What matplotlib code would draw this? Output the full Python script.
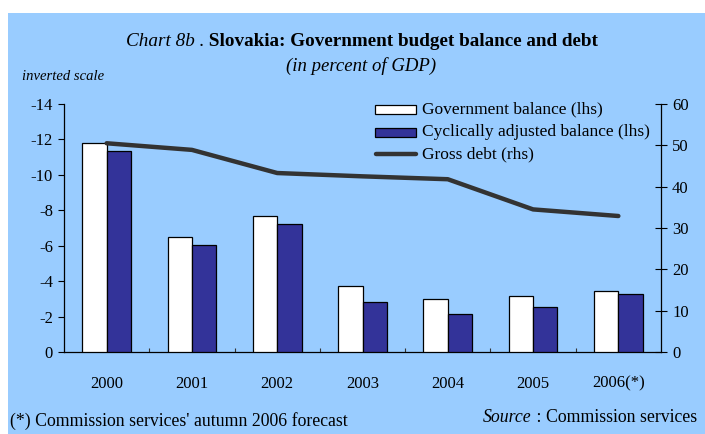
import matplotlib
matplotlib.use("Agg")
import matplotlib.pyplot as plt
from matplotlib.patches import Rectangle
from matplotlib.lines import Line2D
import numpy as np

plt.rcParams['font.family'] = ['Liberation Serif', 'DejaVu Serif']

years = ["2000", "2001", "2002", "2003", "2004", "2005", "2006(*)"]
gov_balance = [-11.8, -6.5, -7.65, -3.7, -3.0, -3.15, -3.45]
cyc_balance = [-11.35, -6.05, -7.2, -2.8, -2.15, -2.55, -3.25]
gross_debt = [50.5, 48.9, 43.3, 42.5, 41.8, 34.5, 32.9]

W, H = 705, 434
fig = plt.figure(figsize=(W / 100, H / 100), dpi=100)
fig.patch.set_facecolor('white')
bg = '#99CCFF'
fig.patches.append(Rectangle((8 / W, 0), 1 - 8 / W, 1 - 13 / H, transform=fig.transFigure,
                             facecolor=bg, edgecolor='none', zorder=-10))

def fx(px):
    return px / W

def fy(py):
    return 1 - py / H

ax = fig.add_axes([fx(64), fy(352), fx(661) - fx(64), fy(104) - fy(352)])
ax.set_facecolor('none')
ax2 = ax.twinx()
ax2.set_facecolor('none')

tick_fs = 12
x = np.arange(len(years))
bw = 0.285
ax.bar(x - bw / 2, gov_balance, width=bw, color='white', edgecolor='black', linewidth=0.9, zorder=3)
ax.bar(x + bw / 2, cyc_balance, width=bw, color='#333399', edgecolor='black', linewidth=0.9, zorder=3)
ax.set_ylim(0, -14)
ax.set_yticks(np.arange(0, -15, -2))
ax.set_yticklabels([f"{v}" for v in range(0, -15, -2)])
ax.set_xlim(-0.5, len(years) - 0.5)
ax.set_xticks(x)
ax.set_xticklabels(years)
ax.set_xticks(np.arange(0.5, len(years) - 0.5, 1), minor=True)
ax.tick_params(axis='x', which='major', length=0, pad=17, labelsize=tick_fs)
ax.tick_params(axis='x', which='minor', direction='in', length=3, width=0.8, color='#333333')
ax.tick_params(axis='y', direction='out', length=4, width=0.8, labelsize=tick_fs, pad=4)

ax2.plot(x, gross_debt, color='#333333', linewidth=3.2, solid_capstyle='round', zorder=4)
ax2.set_ylim(0, 60)
ax2.set_yticks(np.arange(0, 61, 10))
ax2.tick_params(axis='y', direction='inout', length=8, width=0.8, labelsize=tick_fs, pad=4)

for a in (ax, ax2):
    a.spines['top'].set_visible(False)
    for s in a.spines.values():
        s.set_linewidth(0.9)
ax.spines['right'].set_visible(False)
ax2.spines['left'].set_visible(False)
ax2.spines['bottom'].set_visible(False)

# Legend (manual)
leg_fs = 12.5
fig.patches.append(Rectangle((fx(375), fy(114)), fx(416) - fx(375), fy(105) - fy(114),
                             transform=fig.transFigure, facecolor='white', edgecolor='black', linewidth=0.9))
fig.patches.append(Rectangle((fx(375), fy(137)), fx(416) - fx(375), fy(128) - fy(137),
                             transform=fig.transFigure, facecolor='#333399', edgecolor='black', linewidth=0.9))
fig.lines.append(Line2D([fx(376), fx(416)], [fy(153.5), fy(153.5)], transform=fig.transFigure,
                        color='#333333', linewidth=3.2, solid_capstyle='round'))
fig.text(fx(422), fy(109), "Government balance (lhs)", fontsize=leg_fs, va='center', ha='left')
fig.text(fx(422), fy(132.5), "Cyclically adjusted balance (lhs)", fontsize=leg_fs, va='center', ha='left')
fig.text(fx(422), fy(154), "Gross debt (rhs)", fontsize=leg_fs, va='center', ha='left')

# Titles
fig.canvas.draw()
r = fig.canvas.get_renderer()
t1 = fig.text(0, fy(42), "Chart 8b .", fontsize=13.8, style='italic', va='center', ha='left')
t2 = fig.text(0, fy(42), " Slovakia: Government budget balance and debt", fontsize=13.8,
              weight='bold', va='center', ha='left')
w1 = t1.get_window_extent(r).width
w2 = t2.get_window_extent(r).width
start = 362 - (w1 + w2) / 2
t1.set_x(fx(start))
t2.set_x(fx(start + w1))

fig.text(fx(361), fy(66), "(in percent of GDP)", fontsize=13.5, style='italic', va='center', ha='center')
fig.text(fx(22), fy(76), "inverted scale", fontsize=10.5, style='italic', va='center', ha='left')

# Footnotes
foot_fs = 12.8
fig.text(fx(10), fy(421), "(*) Commission services' autumn 2006 forecast", fontsize=foot_fs,
         va='center', ha='left')
s2 = fig.text(fx(697), fy(418), " : Commission services", fontsize=foot_fs, va='center', ha='right')
ws2 = s2.get_window_extent(r).width
fig.text(fx(697 - ws2), fy(418), "Source", fontsize=foot_fs, style='italic', va='center', ha='right')

fig.savefig("out.png", dpi=100, facecolor=fig.get_facecolor())
